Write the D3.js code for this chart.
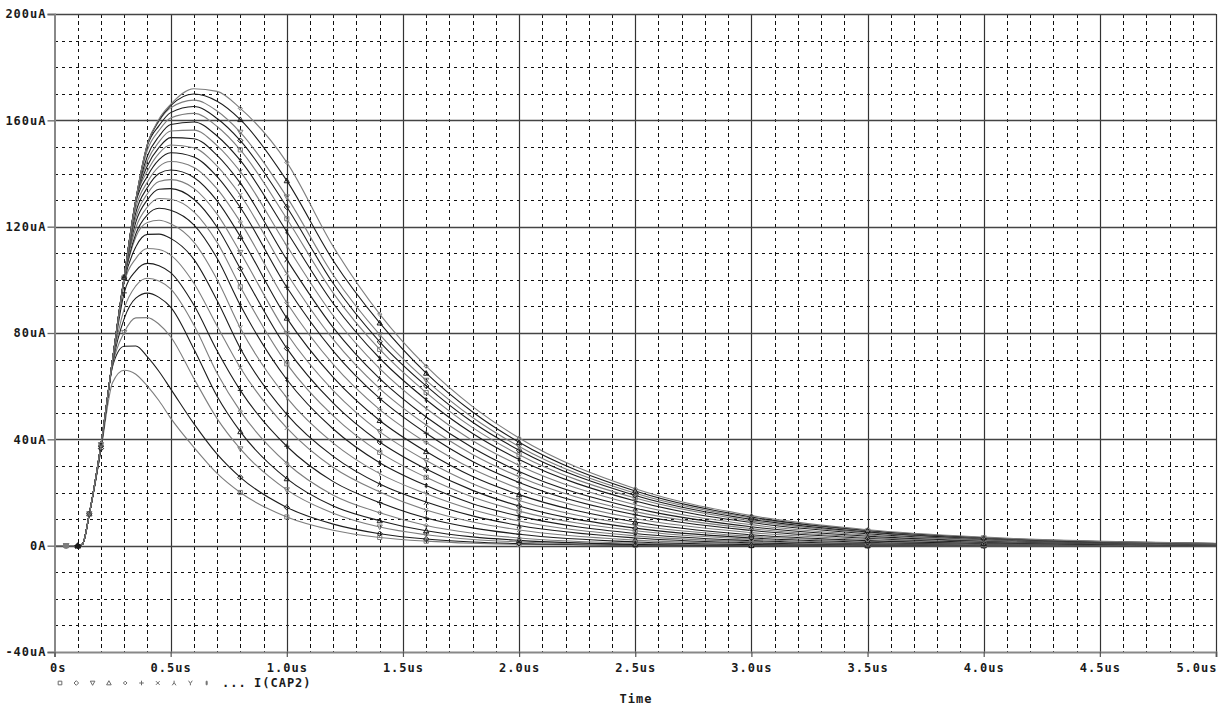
<!DOCTYPE html>
<html><head><meta charset="utf-8">
<script src="https://cdn.jsdelivr.net/npm/d3@7"></script>
<style>
body{margin:0;background:#fff;}
text{font-family:"DejaVu Sans Mono","Liberation Mono",monospace;font-weight:bold;font-size:12px;letter-spacing:1px;fill:#1a1a1a;}
</style>
</head><body><svg id="c" width="1229" height="713"></svg>
<script>
// time axis (us) shared by every trace
const timeUs = [0,0.05,0.1,0.12,0.15,0.2,0.25,0.3,0.35,0.4,0.45,0.5,0.6,0.7,0.8,1.0,1.2,1.4,1.6,1.8,2.0,2.5,3.0,3.5,4.0,5.0];
// I(CAP2) in uA, one array per parametric step (lowest peak first)
const i01 = [0,0,0,0.5,12,36,61.4,66.0,64.5,60.0,54.5,48.0,37.0,27.2,20.0,10.8,5.8,3.1,1.7,0.9,0.5,0.1,0,0,0,0];
const i02 = [0,0,0,0.5,12,36.5,67.5,75.0,75.1,71.0,65.5,59.0,45.9,34.4,25.7,14.4,8.1,4.5,2.5,1.4,0.8,0.2,0,0,0,0];
const i03 = [0,0,0,0.5,12,36.8,68.0,80.2,85.7,85.8,83.3,78.6,62.9,47.8,36.4,21.0,12.2,7.0,4.1,2.3,1.4,0.3,0.1,0,0,0];
const i04 = [0,0,0,0.5,12,37.0,68.5,85.4,93.1,95.0,93.4,89.7,74.0,56.2,42.9,25.2,14.9,9.4,5.6,3.3,2.0,0.5,0.1,0,0,0];
const i05 = [0,0,0,0.5,12,37.2,69.0,89.1,97.7,100.6,99.6,96.6,83.0,64.9,50.6,31.0,19.0,12.4,7.6,4.7,2.9,0.9,0.3,0.1,0,0];
const i06 = [0,0,0,0.5,12,37.4,69.3,95.1,103.4,106.2,105.3,102.7,90.5,73.3,58.4,37.4,24.1,16.2,10.4,6.7,4.3,1.4,0.5,0.2,0.1,0];
const i07 = [0,0,0,0.5,12,37.5,69.6,98.9,108.0,111.8,111.4,109.3,98.7,82.6,66.9,44.3,29.4,20.2,13.4,8.9,5.9,2.1,0.8,0.3,0.1,0];
const i08 = [0,0,0,0.5,12,37.6,69.8,99.5,112.4,117.1,117.2,115.6,107.7,92.2,74.2,49.4,33.6,23.2,16.4,11.2,7.6,2.9,1.1,0.4,0.2,0];
const i09 = [0,0,0,0.5,12,37.7,70,100.0,116.1,121.6,122.4,121.1,114.2,100.1,81.9,55.7,38.6,27.1,19.5,13.5,9.3,3.7,1.5,0.6,0.2,0];
const i10 = [0,0,0,0.5,12,37.8,70,100.4,117.3,124.5,126.9,126.2,120.7,108.1,90.4,62.5,43.9,31.2,22.6,15.8,11.1,4.6,1.9,0.8,0.3,0.1];
const i11 = [0,0,0,0.5,12,38,70,100.7,119.5,127.4,130.6,130.3,125.6,114.1,97.4,68.4,48.8,35.1,25.7,18.3,13.0,5.6,2.4,1.0,0.4,0.1];
const i12 = [0,0,0,0.5,12,38,70,101,121.7,130.1,134.1,134.3,130.3,119.8,104.2,74.2,53.6,39.0,28.8,20.8,14.9,6.6,2.9,1.3,0.6,0.1];
const i13 = [0,0,0,0.5,12,38,70,101,123.4,132.4,137.0,137.7,134.4,124.7,110.3,79.8,58.3,42.9,32.0,23.3,17.0,7.7,3.5,1.6,0.7,0.1];
const i14 = [0,0,0,0.5,12,38,70,101,125.3,134.7,140.0,141.3,138.5,129.7,116.3,85.6,63.3,47.1,35.4,26.0,19.2,8.9,4.1,1.9,0.9,0.2];
const i15 = [0,0,0,0.5,12,38,70,101,127.1,136.8,142.6,144.5,142.3,134.2,121.8,91.4,68.2,51.2,38.8,28.8,21.5,10.2,4.9,2.3,1.1,0.3];
const i16 = [0,0,0,0.5,12,38,70,101,129.0,139.0,145.2,147.8,146.2,138.8,127.2,97.2,73.2,55.4,42.3,31.7,23.8,11.6,5.7,2.8,1.3,0.3];
const i17 = [0,0,0,0.5,12,38,70,101,130,140.9,147.6,150.7,149.7,142.8,131.9,102.4,77.6,59.1,45.4,34.3,25.9,12.8,6.4,3.1,1.6,0.4];
const i18 = [0,0,0,0.5,12,38,70,101,130,142.9,149.8,153.5,153.1,146.8,136.4,107.6,82.0,62.8,48.4,36.8,27.9,14.1,7.1,3.6,1.8,0.5];
const i19 = [0,0,0,0.5,12,38,70,101,130,144.8,151.9,156.0,156.3,150.5,140.7,112.8,86.5,66.6,51.6,39.5,30.2,15.4,7.9,4.0,2.0,0.5];
const i20 = [0,0,0,0.5,12,38,70,101,130,146.6,154.0,158.4,159.4,154.1,144.9,118.1,91.1,70.5,54.9,42.2,32.4,16.8,8.7,4.5,2.3,0.6];
const i21 = [0,0,0,0.5,12,38,70,101,130,148.8,156.2,160.9,162.6,157.7,148.9,123.0,95.0,73.8,57.6,44.4,34.2,17.9,9.3,4.9,2.5,0.7];
const i22 = [0,0,0,0.5,12,38,70,101,130,150.5,158.0,162.9,165.2,160.7,152.4,127.4,98.6,76.7,60.1,46.4,35.9,18.9,9.9,5.2,2.7,0.8];
const i23 = [0,0,0,0.5,12,38,70,101,130,151,159.7,164.7,167.6,163.5,155.5,131.2,101.8,79.4,62.2,48.2,37.3,19.7,10.4,5.5,2.9,0.8];
const i24 = [0,0,0,0.5,12,38,70,101,130,151,160.0,165.5,169.9,167.2,160.3,137.3,107.2,83.8,64.9,50.3,38.9,20.6,10.8,5.7,3.0,0.8];
const i25 = [0,0,0,0.5,12,38,70,101,130,151,160.5,166.0,171.9,170.9,164.5,144.2,112.5,87.1,67.5,52.3,40.5,21.4,11.3,6.0,3.2,0.9];
const series = [i01,i02,i03,i04,i05,i06,i07,i08,i09,i10,i11,i12,i13,i14,i15,i16,i17,i18,i19,i20,i21,i22,i23,i24,i25];

const yTickValues = [-40,0,40,80,120,160,200];
const yTickLabels = ["-40uA","0A","40uA","80uA","120uA","160uA","200uA"];
const xTickValues = [0,0.5,1.0,1.5,2.0,2.5,3.0,3.5,4.0,4.5,5.0];
const xTickLabels = ["0s","0.5us","1.0us","1.5us","2.0us","2.5us","3.0us","3.5us","4.0us","4.5us","5.0us"];
const markerTimesTail = [0.8,1.0,1.4,1.6,2.0,2.5,3.0,3.5,4.0];
const markerTimesRise = [0.15,0.2,0.3];
const markerTimesStart = [0.05,0.1];
const legendSymbols = ["square","diamond","triDown","triUp","diamondSmall","plus","cross","lambda","yee","ddagger"];
const traceName = "I(CAP2)";
const xTitle = "Time";

const svg = d3.select("#c");
const x = d3.scaleLinear().domain([0,5]).range([54.5,1216]);
const y = d3.scaleLinear().domain([-40,200]).range([652,14]);
const px = v => Math.round(x(v)) + 0.5;
const py = v => Math.round(y(v)) + 0.5;

// minor dashed grid
const g = svg.append("g");
const minorX = d3.range(1,50).filter(i => i % 5 !== 0).map(i => i/10);
const minorY = d3.range(-3,20).filter(i => i % 4 !== 0).map(i => i*10);
g.selectAll(".mx").data(minorX).join("line")
  .attr("x1", px).attr("x2", px).attr("y1", y(200)).attr("y2", y(-40))
  .attr("stroke","#111").attr("stroke-width",1).attr("stroke-dasharray","3.5,3.5")
  .attr("shape-rendering","crispEdges");
g.selectAll(".my").data(minorY).join("line")
  .attr("y1", py).attr("y2", py).attr("x1", x(0)).attr("x2", x(5))
  .attr("stroke","#111").attr("stroke-width",1).attr("stroke-dasharray","3.5,3.5")
  .attr("shape-rendering","crispEdges");
// major solid grid
g.selectAll(".Mx").data(xTickValues.slice(1)).join("line")
  .attr("x1", px).attr("x2", px).attr("y1", y(200)).attr("y2", y(-40))
  .attr("stroke","#333").attr("stroke-width",1.2);
g.selectAll(".My").data(yTickValues.slice(1)).join("line")
  .attr("y1", py).attr("y2", py).attr("x1", x(0)).attr("x2", x(5))
  .attr("stroke","#444").attr("stroke-width",1.3);

// traces
const line = d3.line().x((d,i) => x(timeUs[i])).y(d => y(d)).curve(d3.curveMonotoneX);
const colorOf = k => (k % 2 === 0) ? "#7d7d7d" : "#1c1c1c";
const curves = svg.append("g").attr("fill","none");
series.forEach((s,k) => {
  curves.append("path").attr("d", line(s)).attr("stroke", colorOf(k)).attr("stroke-width",1.1);
});

// marker shapes
function symPath(type, s) {
  const a = s, b = s*0.8;
  switch(type) {
    case "square": return `M${-b},${-b}H${b}V${b}H${-b}Z`;
    case "diamond": return `M0,${-a}L${a},0L0,${a}L${-a},0Z`;
    case "triDown": return `M${-a},${-b}H${a}L0,${a}Z`;
    case "triUp": return `M0,${-a}L${a},${b}H${-a}Z`;
    case "diamondSmall": return `M0,${-b}L${b},0L0,${b}L${-b},0Z`;
    case "plus": return `M${-a},0H${a}M0,${-a}V${a}`;
    case "cross": return `M${-b},${-b}L${b},${b}M${b},${-b}L${-b},${b}`;
    case "lambda": return `M${-b},${a}L0,${-a*0.2}L${b},${a}M0,${-a*0.2}V${-a}`;
    case "yee": return `M${-b},${-a}L0,${a*0.2}L${b},${-a}M0,${a*0.2}V${a}`;
    case "ddagger": return `M0,${-a}V${a}M${-b*0.7},${-a*0.4}H${b*0.7}M${-b*0.7},${a*0.4}H${b*0.7}`;
  }
}
const mk = svg.append("g").attr("fill","none").attr("stroke-width",1);
series.forEach((s,k) => {
  const sym = legendSymbols[k % legendSymbols.length];
  const times = [markerTimesStart[k % 2], markerTimesRise[k % 3]].concat(markerTimesTail);
  times.forEach(t => {
    const idx = timeUs.indexOf(t);
    if (idx < 0) return;
    mk.append("path").attr("d", symPath(sym, 2.6))
      .attr("transform", `translate(${x(t)},${y(s[idx])})`)
      .attr("stroke", colorOf(k));
  });
});

// axes
const yAxis = d3.axisLeft(y).tickValues(yTickValues).tickFormat((d,i) => yTickLabels[i]).tickSize(7).tickPadding(1);
const ya = svg.append("g").attr("transform", `translate(${x(0)},0)`).call(yAxis);
ya.select(".domain").attr("stroke","#888").attr("stroke-width",2);
ya.selectAll(".tick line").attr("stroke","#666").attr("stroke-width",1.3);
ya.selectAll("text").attr("fill","#1a1a1a").style("font-size","12px");

const xAxis = d3.axisBottom(x).tickValues(xTickValues).tickFormat((d,i) => xTickLabels[i]).tickSize(5).tickPadding(6);
const xa = svg.append("g").attr("transform", `translate(0,${y(-40)})`).call(xAxis);
xa.select(".domain").attr("stroke","#888").attr("stroke-width",2);
xa.selectAll(".tick line").attr("stroke","#555").attr("stroke-width",1.2);
xa.selectAll("text").attr("fill","#1a1a1a").style("font-size","12px");
xa.selectAll(".tick").filter((d,i) => i === xTickValues.length - 1).select("text").attr("text-anchor","end").attr("dx","1px");
xa.selectAll(".tick").filter((d,i) => i === 0).select("text").attr("text-anchor","start").attr("dx","-5px");
svg.selectAll(".domain").attr("fill","none");

// legend row
const lg = svg.append("g");
legendSymbols.forEach((sym,i) => {
  lg.append("path").attr("d", symPath(sym, 2.3))
    .attr("transform", `translate(${60 + i*16.3},683)`)
    .attr("fill","none").attr("stroke","#6a6a6a").attr("stroke-width",1);
});
lg.append("text").attr("x",222).attr("y",687).text("...");
lg.append("text").attr("x",254).attr("y",687).text(traceName);

svg.append("text").attr("x",636).attr("y",703).attr("text-anchor","middle").text(xTitle);
</script>
</body></html>
